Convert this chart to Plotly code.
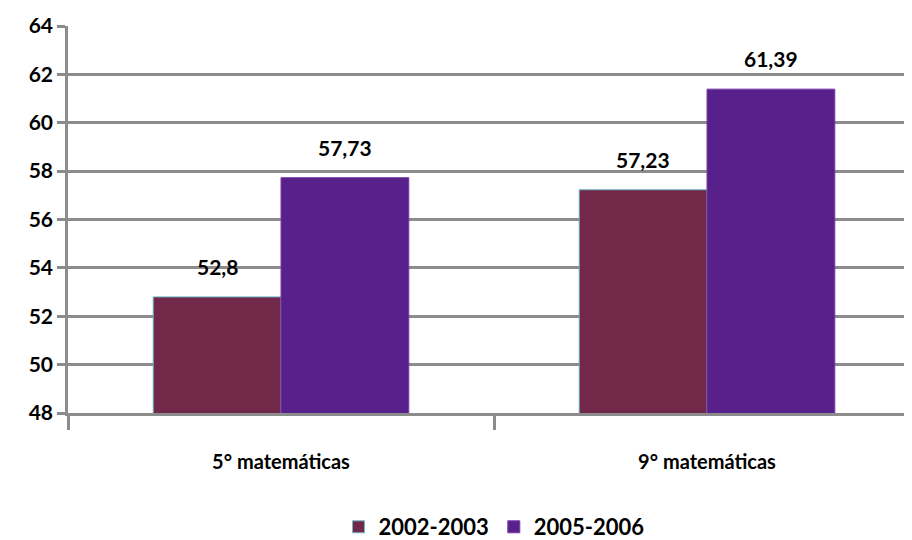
import plotly.graph_objects as go

categories = ["5° matemáticas", "9° matemáticas"]
series_names = ["2002-2003", "2005-2006"]
values_2002 = [52.8, 57.23]
values_2005 = [57.73, 61.39]
y_ticks = [48, 50, 52, 54, 56, 58, 60, 62, 64]

FONT = "Lato, Open Sans, Arial"
GRID = "#8c8c8c"


def label(v):
    return f"{v:g}".replace(".", ",")


fig = go.Figure()
series = [
    (series_names[0], values_2002, "#722848", "#6fb7c8", -64),
    (series_names[1], values_2005, "#58208a", "#7a3aa8", 64),
]
for name, vals, color, edge, shift in series:
    fig.add_trace(
        go.Bar(
            x=categories,
            y=vals,
            name=name,
            marker=dict(color=color, line=dict(color=edge, width=1)),
        )
    )
    # value labels sit a little above each bar, as in the original
    for cat, v in zip(categories, vals):
        fig.add_annotation(
            x=cat, y=v, text=label(v), showarrow=False,
            xshift=shift, yshift=16, yanchor="bottom",
            font=dict(family=FONT, size=21, color="black", weight="bold"),
        )

# page body adds an 8px offset, margins account for it
fig.update_layout(
    width=912,
    height=540,
    margin=dict(l=60, r=0, t=18, b=129),
    plot_bgcolor="white",
    paper_bgcolor="white",
    barmode="group",
    bargap=0.4,
    bargroupgap=0,
    font=dict(family=FONT, size=20, color="black", weight="bold"),
    legend=dict(
        orientation="h",
        x=0.5,
        xanchor="center",
        y=-0.295,
        yanchor="middle",
        font=dict(family=FONT, size=22, color="black", weight="bold"),
        itemwidth=30,
    ),
    showlegend=True,
)

fig.update_yaxes(
    range=[48, 64],
    tickvals=y_ticks,
    automargin=False,
    showgrid=True,
    gridcolor=GRID,
    gridwidth=2.5,
    showline=True,
    linecolor=GRID,
    linewidth=2.5,
    ticks="outside",
    ticklen=8,
    tickwidth=2.5,
    tickcolor=GRID,
    tickfont=dict(family=FONT, size=21, color="black", weight="bold"),
    zeroline=False,
)
fig.update_xaxes(
    automargin=False,
    showline=True,
    linecolor=GRID,
    linewidth=2.5,
    ticks="outside",
    tickson="boundaries",
    ticklen=14,
    tickwidth=2.5,
    tickcolor=GRID,
    ticklabelstandoff=29,
    tickfont=dict(family=FONT, size=20, color="black", weight="bold"),
)

fig.write_html("out.html")
